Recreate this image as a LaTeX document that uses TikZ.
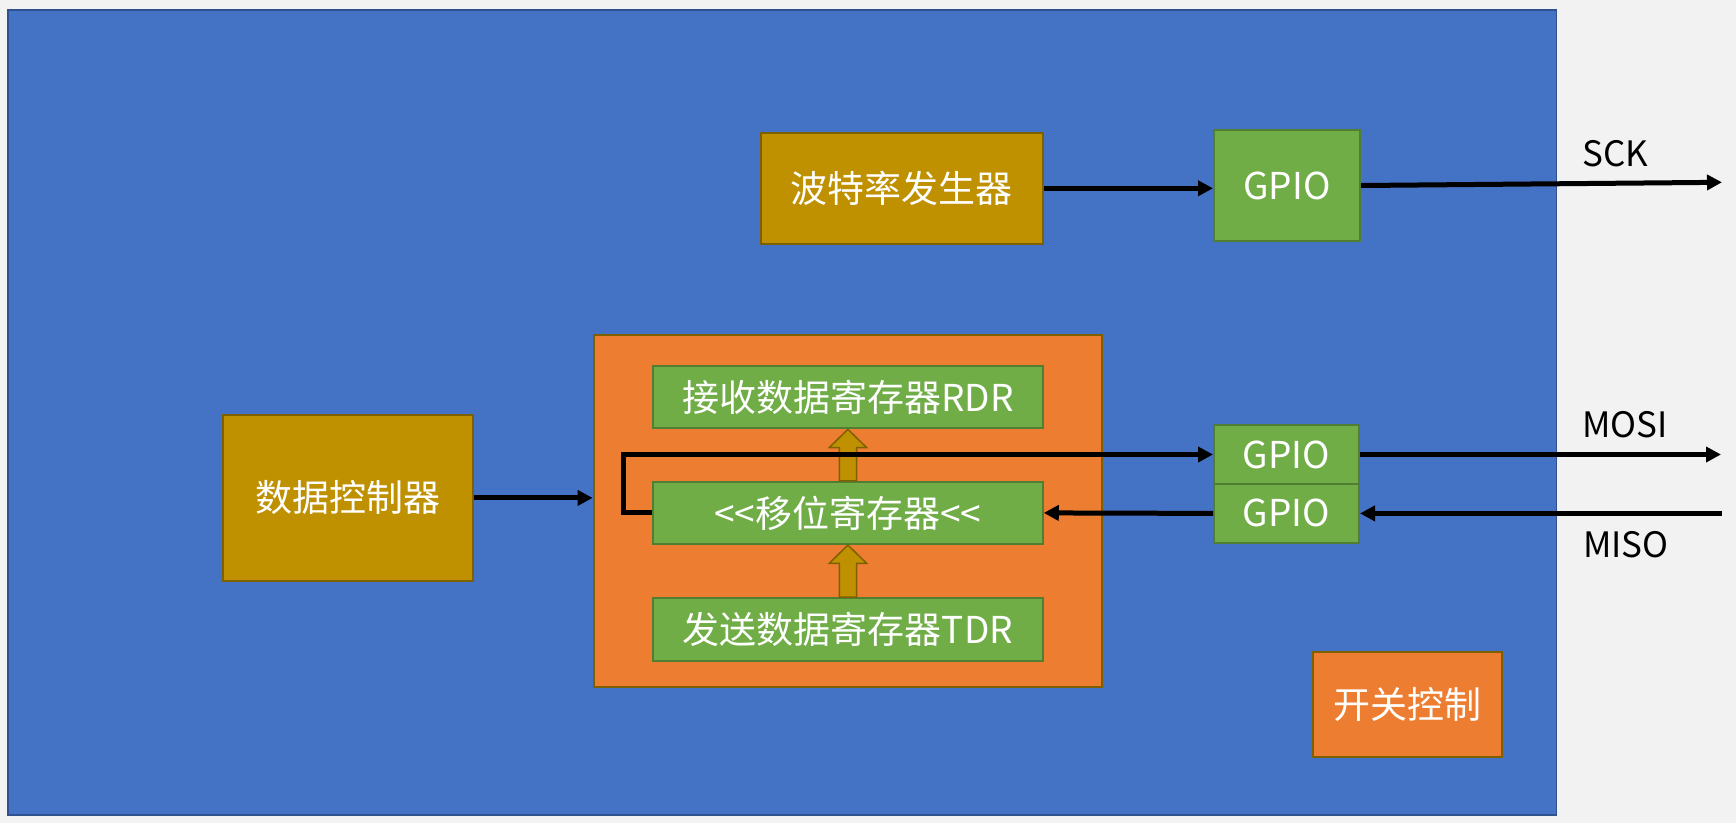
\documentclass[tikz,border=0pt]{standalone}
\usepackage{fontspec}
\setmainfont{Noto Sans CJK SC}
\usetikzlibrary{arrows.meta,calc}
\definecolor{bgray}{HTML}{F2F2F2}
\definecolor{cblue}{HTML}{4472C4}
\definecolor{cblueb}{HTML}{2F528F}
\definecolor{cgold}{HTML}{BF9000}
\definecolor{cgoldb}{HTML}{7F6000}
\definecolor{cgreen}{HTML}{70AD47}
\definecolor{cgreenb}{HTML}{507E32}
\definecolor{corange}{HTML}{ED7D31}
\tikzset{
  boxbase/.style={rectangle, inner sep=0pt, line width=2pt, text=white, font=\fontsize{37}{40}\selectfont},
  goldbox/.style={boxbase, fill=cgold, draw=cgoldb},
  greenbox/.style={boxbase, fill=cgreen, draw=cgreenb},
  orangebox/.style={boxbase, fill=corange, draw=cgoldb},
  wire/.style={line width=5pt, -{Triangle[length=15pt,width=15pt]}},
  lbl/.style={anchor=base west, inner sep=0pt, font=\fontsize{35}{40}\selectfont, text=black},
  blockarrow/.style={fill=cgold, draw=cgoldb, line width=1.5pt, line join=miter}
}
\begin{document}
\begin{tikzpicture}[x=1pt,y=-1pt]
\useasboundingbox (0,0) rectangle (1736,823);
\fill[bgray] (0,0) rectangle (1736,823);
\node[rectangle, inner sep=0pt, fill=cblue, draw=cblueb, line width=1.5pt, minimum width=1548.8pt, minimum height=805pt] (chip) at (782.2,412.5) {};

\node[goldbox, minimum width=282.4pt, minimum height=111pt] (baud) at (901.8,188.5) {波特率发生器};
\node[greenbox, minimum width=146pt, minimum height=111pt] (gpio1) at (1287,185.5) {GPIO};
\node[goldbox, minimum width=249.7pt, minimum height=166.3pt] (ctrl) at (347.9,497.9) {数据控制器};
\node[orangebox, minimum width=508pt, minimum height=352.6pt] (spi) at (847.6,511) {};
\node[greenbox, minimum width=389.7pt, minimum height=62.6pt] (rdr) at (847.9,397) {接收数据寄存器RDR};
\node[greenbox, minimum width=389.7pt, minimum height=62.3pt] (shift) at (847.9,512.9) {<{}<移位寄存器<{}<};
\node[greenbox, minimum width=389.7pt, minimum height=63pt] (tdr) at (847.9,629.5) {发送数据寄存器TDR};
\node[greenbox, minimum width=145pt, minimum height=59pt] (gpio2) at (1286.5,454.5) {GPIO};
\node[greenbox, minimum width=145pt, minimum height=58.7pt] (gpio3) at (1286.5,513.4) {GPIO};
\node[orangebox, minimum width=188.4pt, minimum height=104.4pt] (sw) at (1407.5,704.5) {开关控制};

\coordinate (sckend) at (1722,182.3);
\coordinate (mosiend) at (1721,454.5);
\coordinate (misostart) at (1721.5,513.4);

% block arrows
\foreach \lo/\hi in {shift/rdr, tdr/shift}{
  \draw[blockarrow]
    ($(\lo.north)+(-8.6,0)$) -- ($(\hi.south)+(-8.6,18.3)$) -- ($(\hi.south)+(-18.7,18.3)$)
    -- (\hi.south) -- ($(\hi.south)+(18.7,18.3)$) -- ($(\hi.south)+(8.6,18.3)$)
    -- ($(\lo.north)+(8.6,0)$) -- cycle;
}

% connectors
\draw[wire] ($(baud.east)+(0,-0.2)$) -- ($(baud.east -| gpio1.west)+(0,-0.2)$);
\draw[wire] (gpio1.east) -- (sckend);
\draw[wire] (ctrl.east) -- (ctrl.east -| spi.west);
\draw[wire] (shift.west) -- ++(-28.2,0) |- (gpio2.west);
\draw[wire] (gpio2.east) -- (mosiend);
\draw[wire] (misostart) -- (gpio3.east);
\draw[wire] (gpio3.west) -- (shift.east);

\node[lbl] (sck) at (1582,166) {SCK};
\node[lbl] (mosi) at (1582,437.7) {MOSI};
\node[lbl] (miso) at (1583,557.5) {MISO};
\end{tikzpicture}
\end{document}
